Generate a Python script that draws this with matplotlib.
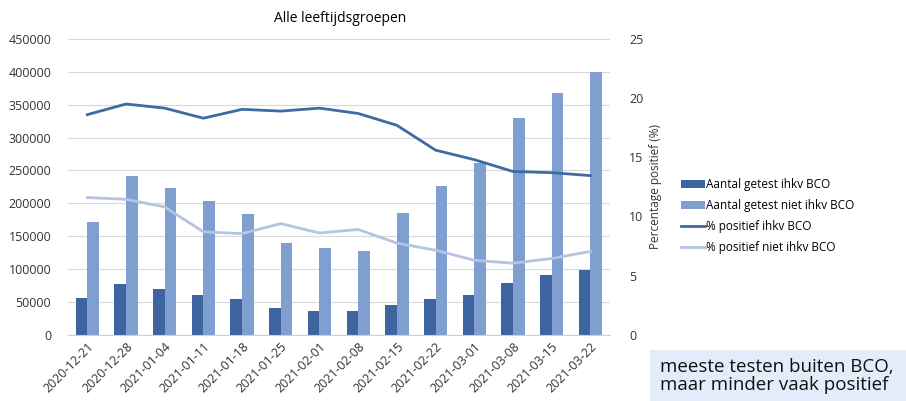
import numpy as np
import matplotlib.pyplot as plt
from matplotlib.patches import Rectangle

weeks = ['2020-12-21', '2020-12-28', '2021-01-04', '2021-01-11', '2021-01-18',
         '2021-01-25', '2021-02-01', '2021-02-08', '2021-02-15', '2021-02-22',
         '2021-03-01', '2021-03-08', '2021-03-15', '2021-03-22']
getest_bco = [55500, 78000, 69000, 60000, 54000, 41500, 35500, 36500, 45000, 55000,
              60500, 79000, 91500, 99000]
getest_niet_bco = [171000, 241000, 224000, 203000, 184000, 139000, 132000, 128000,
                   186000, 227000, 262000, 329000, 367000, 399000]
pos_bco = [18.6, 19.5, 19.15, 18.3, 19.05, 18.9, 19.15, 18.7, 17.7, 15.6,
           14.8, 13.8, 13.7, 13.45]
pos_niet_bco = [11.6, 11.45, 10.8, 8.7, 8.55, 9.4, 8.6, 8.9, 7.75, 7.15,
                6.3, 6.05, 6.45, 7.05]

DARK_BAR = '#3e64a0'
LIGHT_BAR = '#7f9fd0'
DARK_LINE = '#3d6ba3'
LIGHT_LINE = '#b5c4e0'

plt.rcParams['font.family'] = ['Open Sans', 'DejaVu Sans']

fig = plt.figure(figsize=(9.06, 4.01), dpi=100)
ax = fig.add_axes([0.075, 0.165, 0.598, 0.738])
ax2 = ax.twinx()

x = np.arange(len(weeks))
w = 0.3
b1 = ax.bar(x - w / 2, getest_bco, w, color=DARK_BAR, label='Aantal getest ihkv BCO')
b2 = ax.bar(x + w / 2, getest_niet_bco, w, color=LIGHT_BAR, label='Aantal getest niet ihkv BCO')
l1, = ax2.plot(x, pos_bco, color=DARK_LINE, lw=2, label='% positief ihkv BCO')
l2, = ax2.plot(x, pos_niet_bco, color=LIGHT_LINE, lw=2, label='% positief niet ihkv BCO')

ax.set_ylim(0, 450000)
ax.set_yticks(range(0, 450001, 50000))
ax2.set_ylim(0, 25)
ax2.set_yticks(range(0, 26, 5))
ax.set_xlim(-0.5, len(weeks) - 0.5)
ax.set_xticks(x)
ax.set_xticklabels(weeks, rotation=45, ha='right', rotation_mode='anchor', fontsize=8)
ax.grid(axis='y', color='#d9d9d9', lw=0.8)
ax.set_axisbelow(True)

for a in (ax, ax2):
    for s in a.spines.values():
        s.set_visible(False)
    a.tick_params(length=0, labelsize=9, colors='#333333')
ax.spines['bottom'].set_visible(True)
ax.spines['bottom'].set_color('#d0d0d0')
ax.tick_params(axis='y', pad=12)
ax2.tick_params(axis='y', pad=14)
ax2.set_ylabel('Percentage positief (%)', fontsize=8.5, color='#333333', labelpad=4)

fig.text(0.375, 0.955, 'Alle leeftijdsgroepen', ha='center', va='center', fontsize=10)

fig.legend([b1, b2, l1, l2], [h.get_label() for h in (b1, b2, l1, l2)],
           loc='upper left', bbox_to_anchor=(0.74, 0.582), frameon=False,
           fontsize=8.5, handlelength=2.0, handletextpad=0.15, labelspacing=0.68)

fig.patches.append(Rectangle((650 / 906, 0), 256 / 906, 51 / 401, transform=fig.transFigure,
                             facecolor='#e3edf9', edgecolor='none'))
fig.text(660 / 906, 25 / 401, 'meeste testen buiten BCO,\nmaar minder vaak positief',
         ha='left', va='center', fontsize=13.5, linespacing=1.0, color='#111111')

fig.savefig('out.png', dpi=100)
